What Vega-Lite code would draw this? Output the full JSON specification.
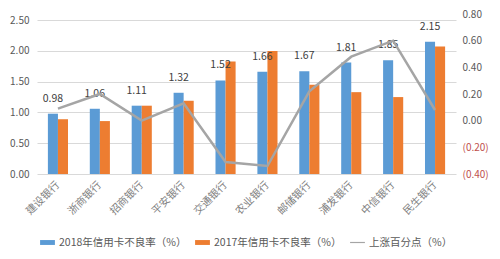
{
  "$schema": "https://vega.github.io/schema/vega-lite/v6.json",
  "width": 419,
  "height": 160,
  "autosize": {"type": "none"},
  "padding": {"left": 37, "top": 14, "right": 44, "bottom": 85},
  "background": "white",
  "config": {
    "view": {"stroke": null},
    "font": "Noto Sans CJK SC",
    "axis": {"labelColor": "#595959", "labelFontSize": 10, "ticks": false, "domain": false, "title": null, "labelOverlap": false},
    "legend": {"labelFont": "Noto Sans CJK SC"}
  },
  "datasets": {
    "bars": [
      {"bank": "建设银行", "series": "2018年信用卡不良率（%）", "value": 0.98},
      {"bank": "建设银行", "series": "2017年信用卡不良率（%）", "value": 0.89},
      {"bank": "浙商银行", "series": "2018年信用卡不良率（%）", "value": 1.06},
      {"bank": "浙商银行", "series": "2017年信用卡不良率（%）", "value": 0.86},
      {"bank": "招商银行", "series": "2018年信用卡不良率（%）", "value": 1.11},
      {"bank": "招商银行", "series": "2017年信用卡不良率（%）", "value": 1.11},
      {"bank": "平安银行", "series": "2018年信用卡不良率（%）", "value": 1.32},
      {"bank": "平安银行", "series": "2017年信用卡不良率（%）", "value": 1.19},
      {"bank": "交通银行", "series": "2018年信用卡不良率（%）", "value": 1.52},
      {"bank": "交通银行", "series": "2017年信用卡不良率（%）", "value": 1.83},
      {"bank": "农业银行", "series": "2018年信用卡不良率（%）", "value": 1.66},
      {"bank": "农业银行", "series": "2017年信用卡不良率（%）", "value": 2.0},
      {"bank": "邮储银行", "series": "2018年信用卡不良率（%）", "value": 1.67},
      {"bank": "邮储银行", "series": "2017年信用卡不良率（%）", "value": 1.45},
      {"bank": "浦发银行", "series": "2018年信用卡不良率（%）", "value": 1.81},
      {"bank": "浦发银行", "series": "2017年信用卡不良率（%）", "value": 1.33},
      {"bank": "中信银行", "series": "2018年信用卡不良率（%）", "value": 1.85},
      {"bank": "中信银行", "series": "2017年信用卡不良率（%）", "value": 1.25},
      {"bank": "民生银行", "series": "2018年信用卡不良率（%）", "value": 2.15},
      {"bank": "民生银行", "series": "2017年信用卡不良率（%）", "value": 2.07}
    ],
    "line": [
      {"bank": "建设银行", "series": "上涨百分点（%）", "change": 0.09},
      {"bank": "浙商银行", "series": "上涨百分点（%）", "change": 0.20},
      {"bank": "招商银行", "series": "上涨百分点（%）", "change": 0.0},
      {"bank": "平安银行", "series": "上涨百分点（%）", "change": 0.13},
      {"bank": "交通银行", "series": "上涨百分点（%）", "change": -0.31},
      {"bank": "农业银行", "series": "上涨百分点（%）", "change": -0.34},
      {"bank": "邮储银行", "series": "上涨百分点（%）", "change": 0.22},
      {"bank": "浦发银行", "series": "上涨百分点（%）", "change": 0.48},
      {"bank": "中信银行", "series": "上涨百分点（%）", "change": 0.60},
      {"bank": "民生银行", "series": "上涨百分点（%）", "change": 0.08}
    ]
  },
  "encoding": {
    "x": {
      "field": "bank", "type": "nominal", "sort": null,
      "scale": {"paddingInner": 0.52, "paddingOuter": 0.26},
      "axis": {"labelAngle": -45, "labelAlign": "right", "labelBaseline": "middle", "labelFontSize": 10.5, "labelPadding": 9, "labelColor": "#7f7f7f"}
    }
  },
  "layer": [
    {
      "data": {"name": "bars"},
      "layer": [
        {
          "mark": {"type": "bar"},
          "encoding": {
            "xOffset": {"field": "series", "type": "nominal", "sort": ["2018年信用卡不良率（%）", "2017年信用卡不良率（%）"]},
            "y": {
              "field": "value", "type": "quantitative",
              "scale": {"domain": [0, 2.5]},
              "axis": {"values": [0, 0.5, 1, 1.5, 2, 2.5], "format": ".2f", "gridColor": "#d9d9d9", "labelPadding": 8}
            },
            "color": {
              "field": "series", "type": "nominal",
              "scale": {"domain": ["2018年信用卡不良率（%）", "2017年信用卡不良率（%）", "上涨百分点（%）"], "range": ["#5B9BD5", "#ED7D31", "#A5A5A5"]},
              "legend": {
                "orient": "none", "legendX": 3, "legendY": 221, "direction": "horizontal", "title": null,
                "labelFontSize": 10.5, "labelColor": "#595959", "columnPadding": 8, "symbolSize": 220,
                "symbolType": "M-1,-0.33L1,-0.33L1,0.33L-1,0.33Z", "symbolStrokeWidth": 0,
                "encode": {"symbols": {"update": {
                  "shape": {"signal": "datum.label === '上涨百分点（%）' ? 'M-1,-0.08L1,-0.08L1,0.08L-1,0.08Z' : 'M-1,-0.33L1,-0.33L1,0.33L-1,0.33Z'"}
                }}}
              }
            }
          }
        },
        {
          "transform": [{"filter": "datum.series === '2018年信用卡不良率（%）'"}],
          "mark": {"type": "text", "dy": -10, "fontSize": 10.5, "color": "#404040", "baseline": "bottom"},
          "encoding": {
            "xOffset": {"field": "series", "type": "nominal", "sort": ["2018年信用卡不良率（%）", "2017年信用卡不良率（%）"]},
            "y": {
              "field": "value", "type": "quantitative",
              "axis": {"values": [0, 0.5, 1, 1.5, 2, 2.5], "format": ".2f", "gridColor": "#d9d9d9", "labelPadding": 8}
            },
            "text": {"field": "value", "type": "quantitative", "format": ".2f"}
          }
        }
      ]
    },
    {
      "data": {"name": "line"},
      "mark": {"type": "line", "strokeWidth": 2.5, "color": "#A5A5A5"},
      "encoding": {
        "y": {
          "field": "change", "type": "quantitative",
          "scale": {"domain": [-0.4, 0.8]},
          "axis": {
            "orient": "right", "grid": false, "values": [-0.4, -0.2, 0, 0.2, 0.4, 0.6, 0.8], "labelPadding": 6,
            "labelExpr": "datum.value < 0 ? '(' + format(-datum.value, '.2f') + ')' : format(datum.value, '.2f')",
            "labelColor": {"condition": {"test": "datum.value < 0", "value": "#c0504d"}, "value": "#595959"}
          }
        }
      }
    }
  ],
  "resolve": {"scale": {"y": "independent"}}
}
